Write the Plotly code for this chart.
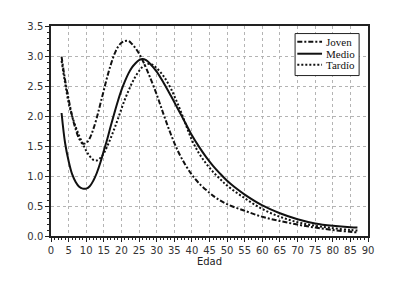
import plotly.graph_objects as go

# Ages and series values
edad_joven = [3, 4, 5, 6, 7, 8, 9, 10, 11, 12, 13, 14, 15, 16, 17, 18, 19, 20, 21, 22, 23, 24, 25, 26, 27, 28,
              30, 32, 34, 36, 38, 40, 42, 45, 47, 50, 55, 60, 65, 70, 75, 80, 85, 87]
joven = [2.99, 2.6, 2.28, 2.0, 1.78, 1.62, 1.54, 1.55, 1.63, 1.78, 1.97, 2.2, 2.43, 2.66, 2.86, 3.03, 3.15, 3.22,
         3.25, 3.25, 3.2, 3.13, 3.04, 2.93, 2.8, 2.66,
         2.36, 2.02, 1.7, 1.42, 1.2, 1.02, 0.88, 0.72, 0.63, 0.53, 0.42, 0.32, 0.25, 0.19, 0.14, 0.1, 0.07, 0.06]

edad_medio = [3, 4, 5, 6, 7, 8, 9, 10, 11, 12, 13, 14, 15, 16, 17, 18, 19, 20, 21, 22, 23, 24, 25, 26, 27, 28,
              30, 32, 34, 36, 38, 40, 42, 44, 46, 48, 50, 52, 55, 60, 65, 70, 75, 80, 85, 87]
medio = [2.05, 1.55, 1.25, 1.03, 0.9, 0.82, 0.79, 0.79, 0.83, 0.92, 1.05, 1.22, 1.42, 1.62, 1.84, 2.05, 2.25, 2.43,
         2.58, 2.71, 2.81, 2.88, 2.93, 2.95, 2.93, 2.88,
         2.74, 2.55, 2.34, 2.12, 1.9, 1.68, 1.49, 1.32, 1.17, 1.04, 0.92, 0.82, 0.69, 0.51, 0.38, 0.28, 0.21, 0.17, 0.145, 0.14]

edad_tardio = [3, 4, 5, 6, 7, 8, 9, 10, 11, 12, 13, 14, 15, 16, 17, 18, 19, 20, 21, 22, 23, 24, 25, 26, 27, 28, 29,
               30, 32, 34, 36, 38, 40, 42, 44, 46, 48, 50, 55, 60, 65, 70, 75, 80, 85, 87]
tardio = [2.92, 2.55, 2.22, 2.0, 1.82, 1.67, 1.54, 1.42, 1.33, 1.27, 1.26, 1.3, 1.38, 1.5, 1.64, 1.79, 1.95, 2.12,
          2.28, 2.42, 2.55, 2.66, 2.75, 2.82, 2.86, 2.87, 2.85,
          2.8, 2.66, 2.46, 2.2, 1.9, 1.6, 1.38, 1.21, 1.07, 0.95, 0.84, 0.63, 0.45, 0.32, 0.23, 0.17, 0.13, 0.1, 0.09]

series_names = ["Joven", "Medio", "Tardío"]
series_dash = ["5px,2px,2px,2px", "solid", "2px,2px"]
x_ticks = list(range(0, 91, 5))
y_ticks = [0.0, 0.5, 1.0, 1.5, 2.0, 2.5, 3.0, 3.5]

fig = go.Figure()
for xs, ys, name, dash in zip([edad_joven, edad_medio, edad_tardio], [joven, medio, tardio],
                              series_names, series_dash):
    fig.add_trace(go.Scatter(x=xs, y=ys, name=name, mode="lines", showlegend=False,
                             line=dict(color="#111", width=2, dash=dash, shape="spline")))

axis_common = dict(showline=True, linecolor="#222", linewidth=1.5, mirror=True,
                   showgrid=True, gridcolor="#b4b4b4", griddash="dot", gridwidth=1,
                   ticks="outside", ticklen=4, tickcolor="#222", zeroline=False,
                   tickfont=dict(family="DejaVu Sans", size=10, color="#333"))

fig.update_xaxes(range=[0, 90], tickvals=x_ticks,
                 minor=dict(dtick=1, ticks="outside", ticklen=2, tickcolor="#222", showgrid=False),
                 title=dict(text="Edad", font=dict(family="DejaVu Sans", size=10, color="#222"), standoff=3),
                 **axis_common)
fig.update_yaxes(range=[0, 3.5], tickvals=y_ticks, tickformat=".1f",
                 minor=dict(dtick=0.1, ticks="outside", ticklen=2, tickcolor="#222", showgrid=False),
                 **axis_common)

# Compact legend box (drawn in paper coordinates)
legend_box = dict(x0=0.770, x1=0.972, y0=0.764, y1=0.964)
legend_rows = [0.925, 0.868, 0.816]
shapes = [dict(type="rect", xref="paper", yref="paper", **legend_box,
               line=dict(color="#222", width=1), fillcolor="white", layer="above")]
annotations = []
for name, dash, yr in zip(series_names, series_dash, legend_rows):
    shapes.append(dict(type="line", xref="paper", yref="paper", x0=0.777, x1=0.855, y0=yr, y1=yr,
                       line=dict(color="#111", width=2, dash=dash), layer="above"))
    annotations.append(dict(xref="paper", yref="paper", x=0.860, y=yr, text=name, showarrow=False,
                            xanchor="left", yanchor="middle",
                            font=dict(family="Liberation Serif", size=11, color="#111")))

fig.update_layout(
    width=396, height=285,
    margin=dict(l=43, r=36, t=16, b=57),
    paper_bgcolor="white", plot_bgcolor="white",
    showlegend=False,
    shapes=shapes, annotations=annotations,
)

fig.write_html("out.html")
